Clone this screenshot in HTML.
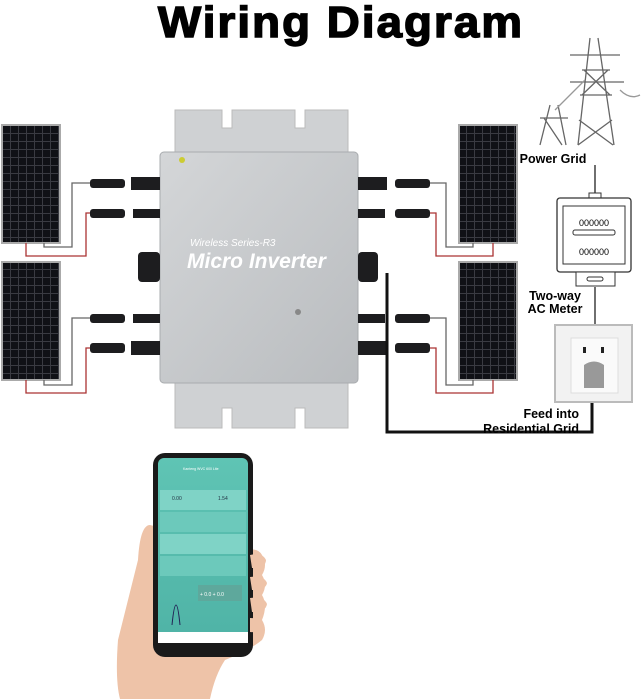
<!DOCTYPE html>
<html><head><meta charset="utf-8"><style>
html,body{margin:0;padding:0;background:#fff;width:643px;height:699px;overflow:hidden}
svg{display:block}
text{font-family:"Liberation Sans",sans-serif}
</style></head><body>
<svg width="643" height="699" viewBox="0 0 643 699" xmlns="http://www.w3.org/2000/svg">
<defs>
<pattern id="cells" x="2" y="125" width="8" height="8" patternUnits="userSpaceOnUse">
<rect width="8" height="8" fill="#3a3b42"/><rect x="1" y="1" width="7" height="7" fill="#101116"/>
</pattern>
<linearGradient id="metal" x1="0" y1="0" x2="1" y2="1"><stop offset="0" stop-color="#d4d6d8"/><stop offset="1" stop-color="#b9bcbf"/></linearGradient>
<linearGradient id="scr" x1="0" y1="0" x2="0" y2="1"><stop offset="0" stop-color="#5fc4b4"/><stop offset="1" stop-color="#4fb3a6"/></linearGradient>
</defs>
<text x="341" y="37" font-size="44" font-weight="bold" text-anchor="middle" fill="#000" stroke="#000" stroke-width="1.5" letter-spacing="2" textLength="366" lengthAdjust="spacingAndGlyphs">Wiring Diagram</text>

<!-- panels -->
<g stroke="#aaa" stroke-width="2">
<rect x="2" y="125" width="58" height="118" fill="url(#cells)"/>
<rect x="2" y="262" width="58" height="118" fill="url(#cells)"/>
<rect x="459" y="125" width="58" height="118" fill="url(#cells)"/>
<rect x="459" y="262" width="58" height="118" fill="url(#cells)"/>
</g>
<!-- wires -->
<g fill="none" stroke-width="1.3">
<path d="M90 183H72V247H44V243" stroke="#666"/>
<path d="M90 213H86V256H26V243" stroke="#a33"/>
<path d="M90 318H72V385H44V380" stroke="#666"/>
<path d="M90 348H86V393H26V380" stroke="#a33"/>
<path d="M430 183H446V247H473V243" stroke="#666"/>
<path d="M430 213H436V256H493V243" stroke="#a33"/>
<path d="M430 318H446V385H473V380" stroke="#666"/>
<path d="M430 348H436V393H493V380" stroke="#a33"/>
</g>
<!-- inverter plate -->
<path d="M175 110H222V128H232V110H295V128H305V110H348V428H305V408H295V428H232V408H222V428H175Z" fill="#cfd1d3" stroke="#bbb"/>
<rect x="160" y="152" width="198" height="231" rx="4" fill="url(#metal)" stroke="#a9acaf"/>
<text x="190" y="246" font-size="10" font-style="italic" fill="#fff">Wireless Series-R3</text>
<text x="187" y="268" font-size="21" font-weight="bold" font-style="italic" fill="#fff">Micro Inverter</text>
<circle cx="298" cy="312" r="3" fill="#888"/><circle cx="182" cy="160" r="3" fill="#cc3"/>
<!-- connectors -->
<g fill="#1d1d1f">
<rect x="90" y="179" width="35" height="9" rx="3"/><rect x="131" y="177" width="29" height="13"/>
<rect x="90" y="209" width="35" height="9" rx="3"/><rect x="133" y="209" width="27" height="9"/>
<rect x="90" y="314" width="35" height="9" rx="3"/><rect x="133" y="314" width="27" height="9"/>
<rect x="90" y="343" width="35" height="10" rx="3"/><rect x="131" y="341" width="29" height="14"/>
<rect x="395" y="179" width="35" height="9" rx="3"/><rect x="358" y="177" width="29" height="13"/>
<rect x="395" y="209" width="35" height="9" rx="3"/><rect x="358" y="209" width="27" height="9"/>
<rect x="395" y="314" width="35" height="9" rx="3"/><rect x="358" y="314" width="27" height="9"/>
<rect x="395" y="343" width="35" height="10" rx="3"/><rect x="358" y="341" width="29" height="14"/>
<rect x="138" y="252" width="22" height="30" rx="4"/><rect x="358" y="252" width="20" height="30" rx="4"/>
</g>
<path d="M387 273V432H592V390" fill="none" stroke="#111" stroke-width="3"/>
<!-- tower -->
<g stroke="#666" stroke-width="1.3" fill="none">
<path d="M590 38L578 145M598 38L614 145M582 70H610M580 95H612M584 70L610 95M608 70L582 95M579 120L613 145M612 120L578 145M570 55H620M570 82H624"/>
<path d="M550 105L540 145M558 105L566 145M540 118H568M544 118L562 145"/>
<path d="M620 90Q630 100 640 95M555 110Q570 95 585 80" stroke="#999"/>
</g>
<text x="553" y="163" font-size="12.5" font-weight="bold" text-anchor="middle">Power Grid</text>
<path d="M595 165V197M595 287V325" stroke="#222" stroke-width="1.3"/>
<!-- meter -->
<rect x="589" y="193" width="12" height="6" fill="#fff" stroke="#333"/>
<rect x="557" y="198" width="74" height="74" rx="3" fill="#fff" stroke="#333" stroke-width="1.3"/>
<rect x="563" y="206" width="62" height="58" fill="#fff" stroke="#333"/>
<text x="594" y="226" font-size="9" text-anchor="middle" font-family="Liberation Mono">000000</text>
<rect x="573" y="230" width="42" height="5" rx="2" fill="none" stroke="#333"/>
<text x="594" y="255" font-size="9" text-anchor="middle" font-family="Liberation Mono">000000</text>
<rect x="576" y="272" width="39" height="14" fill="#fff" stroke="#333"/>
<rect x="587" y="277" width="16" height="4" rx="2" fill="none" stroke="#333"/>
<text x="555" y="300" font-size="12.5" font-weight="bold" text-anchor="middle">Two-way</text>
<text x="555" y="313" font-size="12.5" font-weight="bold" text-anchor="middle">AC Meter</text>
<!-- outlet -->
<rect x="555" y="325" width="77" height="77" fill="#f2f2f2" stroke="#bbb" stroke-width="2"/>
<rect x="571" y="338" width="47" height="55" fill="#fafafa" stroke="#ddd"/>
<rect x="583" y="347" width="3" height="6" fill="#222"/><rect x="601" y="347" width="3" height="6" fill="#222"/>
<path d="M584 365Q594 358 604 365V388H584Z" fill="#999"/>
<text x="579" y="418" font-size="12.5" font-weight="bold" text-anchor="end">Feed into</text>
<text x="579" y="433" font-size="12.5" font-weight="bold" text-anchor="end">Residential Grid</text>
<!-- hand -->
<path d="M150 525Q140 525 138 560Q128 600 118 640Q115 680 120 699H210Q215 675 225 660Q250 650 262 640Q268 630 262 620Q268 605 262 595Q268 585 262 575Q268 565 262 555Q258 548 250 550Z" fill="#eec3a8"/>
<!-- phone -->
<rect x="153" y="453" width="100" height="204" rx="12" fill="#1a1a1a"/>
<rect x="158" y="458" width="90" height="184" rx="6" fill="url(#scr)"/>
<rect x="158" y="632" width="90" height="11" fill="#fff"/>
<rect x="160" y="490" width="86" height="20" fill="#7fd3c6"/>
<rect x="160" y="512" width="86" height="20" fill="#6cc9bb"/>
<rect x="160" y="534" width="86" height="20" fill="#7fd3c6"/>
<rect x="160" y="556" width="86" height="20" fill="#6cc9bb"/>
<rect x="198" y="585" width="44" height="16" fill="#5ea89c"/>
<path d="M172 625Q176 585 180 625" fill="none" stroke="#225" stroke-width="1"/>
<text x="172" y="500" font-size="5" fill="#234">0.00</text><text x="218" y="500" font-size="5" fill="#234">1.54</text>
<text x="200" y="596" font-size="5" fill="#fff">+ 0.0 + 0.0</text>
<text x="183" y="470" font-size="3.5" fill="#fff">Kanteng WVC 600 Lite</text>
<path d="M250 555Q262 552 266 560Q266 568 252 568ZM250 577Q264 575 267 583Q266 590 252 590ZM250 598Q264 596 267 604Q266 612 252 612ZM250 618Q262 618 264 626Q262 633 250 632Z" fill="#eec3a8"/>
</svg>
</body></html>
